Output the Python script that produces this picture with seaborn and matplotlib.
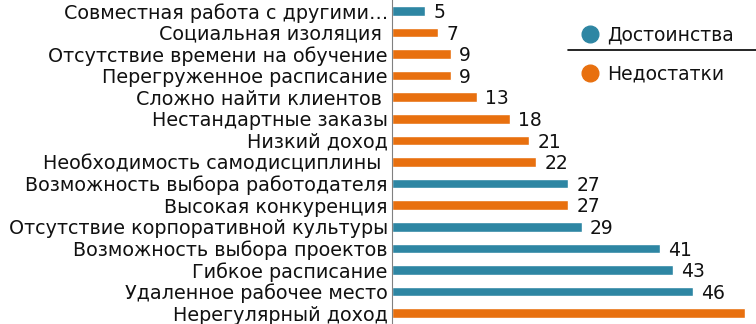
import pandas as pd
import numpy as np
import matplotlib.pyplot as plt
import seaborn as sns
from matplotlib.lines import Line2D

# данные графика (сверху вниз)
categories = [
    "Совместная работа с другими…",
    "Социальная изоляция ",
    "Отсутствие времени на обучение",
    "Перегруженное расписание",
    "Сложно найти клиентов ",
    "Нестандартные заказы",
    "Низкий доход",
    "Необходимость самодисциплины ",
    "Возможность выбора работодателя",
    "Высокая конкуренция",
    "Отсутствие корпоративной культуры",
    "Возможность выбора проектов",
    "Гибкое расписание",
    "Удаленное рабочее место",
    "Нерегулярный доход",
]
values = [5, 7, 9, 9, 13, 18, 21, 22, 27, 27, 29, 41, 43, 46, 54]
groups = ["Достоинства", "Недостатки", "Недостатки", "Недостатки", "Недостатки",
          "Недостатки", "Недостатки", "Недостатки", "Достоинства", "Недостатки",
          "Достоинства", "Достоинства", "Достоинства", "Достоинства", "Недостатки"]

palette = {"Достоинства": "#2E86A3", "Недостатки": "#E8700F"}

sns.set_style("white")
plt.rcParams['font.family'] = ['DejaVu Sans']

df = pd.DataFrame({"cat": categories, "val": values, "grp": groups})

fig = plt.figure(figsize=(7.56, 3.24), dpi=100)
ax = fig.add_axes([392 / 756, 0.0, 1 - 392 / 756, 1.0])

colors = [palette[g] for g in groups]
sns.barplot(data=df, y="cat", x="val", hue="cat", palette=colors, legend=False,
            orient="h", width=0.45, ax=ax, saturation=1)

xmax = 55.7
ax.set_xlim(0, xmax)
ax.set_ylim(len(categories) - 0.5, -0.5)
ax.set_xlabel("")
ax.set_ylabel("")
ax.set_xticks([])
ax.tick_params(axis="y", length=0, labelsize=13.8, pad=3, labelcolor="#111111")

# засечки между категориями
ax.set_yticks(np.arange(-0.5, len(categories) + 0.5, 1), minor=True)
ax.tick_params(axis="y", which="minor", length=4, color="#808080", width=0.8)

for s in ["top", "right", "bottom"]:
    ax.spines[s].set_visible(False)
ax.spines["left"].set_color("#808080")
ax.spines["left"].set_linewidth(0.8)

# подписи значений (последняя уходит за край рисунка, как в оригинале)
for i, v in enumerate(values):
    if v + 1.3 < xmax - 2:
        ax.text(v + 1.3, i + 0.08, str(v), va="center", ha="left", fontsize=13.5,
                color="#111111")

# легенда
handles = [Line2D([0], [0], marker="o", linestyle="", markersize=12,
                  markerfacecolor=palette[g], markeredgecolor=palette[g]) for g in palette]
leg = fig.legend(handles, list(palette.keys()), loc="upper left",
                 bbox_to_anchor=(571 / 756, 1 - 18 / 324), frameon=False,
                 fontsize=13.5, handletextpad=0.35, labelspacing=1.05, borderaxespad=0,
                 handlelength=1.2)
for t in leg.get_texts():
    t.set_color("#111111")
fig.add_artist(Line2D([568 / 756, 1.0], [1 - 50 / 324, 1 - 50 / 324],
                      color="black", linewidth=1.2))

fig.savefig("out.png", dpi=100)
